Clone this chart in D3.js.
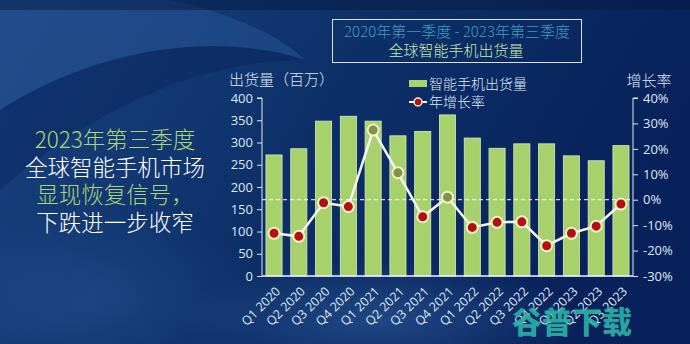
<!DOCTYPE html>
<html><head><meta charset="utf-8">
<script src="https://cdn.jsdelivr.net/npm/d3@7"></script>
<style>html,body{margin:0;padding:0;background:#0b2a5e;overflow:hidden}
text{font-family:"Noto Sans CJK SC","Noto Sans",sans-serif}</style>
</head><body><svg id="c" width="690" height="344"></svg>
<script>
const categories = ["Q1 2020","Q2 2020","Q3 2020","Q4 2020","Q1 2021","Q2 2021","Q3 2021","Q4 2021","Q1 2022","Q2 2022","Q3 2022","Q4 2022","Q1 2023","Q2 2023","Q3 2023"];
const shipments = [272,286,348,359,348,315,325,362,310,287,297,297,270,259,293];
const growth = [-13.2,-14.4,-1.2,-2.7,27.4,10.6,-6.7,1.0,-10.9,-8.9,-8.7,-18.1,-13.2,-10.4,-1.7];
const leftTicks = [0,50,100,150,200,250,300,350,400];
const rightTicks = [-30,-20,-10,0,10,20,30,40];
const titleLines = ["2020年第一季度 - 2023年第三季度","全球智能手机出货量"];
const sideLines = [["2023年第三季度","#a9d67a"],["全球智能手机市场","#ffffff"],["显现恢复信号，","#a9d67a"],["下跌进一步收窄","#ffffff"]];
const legendLabels = ["智能手机出货量","年增长率"];

const svg = d3.select("#c");
const defs = svg.append("defs");
const bg = defs.append("linearGradient").attr("id","bg").attr("x1","0").attr("y1","0").attr("x2","1").attr("y2","0.3");
bg.append("stop").attr("offset","0").attr("stop-color","#1a4380");
bg.append("stop").attr("offset","0.5").attr("stop-color","#0d3069");
bg.append("stop").attr("offset","1").attr("stop-color","#08215a");
svg.append("rect").attr("width",690).attr("height",344).attr("fill","url(#bg)");
const rg = defs.append("radialGradient").attr("id","glow").attr("cx","0.5").attr("cy","0.5").attr("r","0.5");
rg.append("stop").attr("offset","0").attr("stop-color","#3a6fb0").attr("stop-opacity",0.45);
rg.append("stop").attr("offset","1").attr("stop-color","#3a6fb0").attr("stop-opacity",0);
// swooshes
svg.append("path").attr("d","M0,0 L170,0 C240,15 285,40 305,60 C230,35 110,40 0,110 Z").attr("fill","#2d5c9c").attr("opacity",0.45);
svg.append("path").attr("d","M0,110 C110,40 230,35 305,60 C200,60 90,110 0,190 Z").attr("fill","#08245a").attr("opacity",0.45);
svg.append("ellipse").attr("cx",380).attr("cy",320).attr("rx",200).attr("ry",60).attr("fill","url(#glow)");
svg.append("ellipse").attr("cx",90).attr("cy",300).attr("rx",180).attr("ry",90).attr("fill","url(#glow)").attr("opacity",0.6);
svg.append("rect").attr("width",690).attr("height",10).attr("fill","#061a40").attr("opacity",0.5);

const x = d3.scaleBand().domain(categories).range([262,633]).paddingInner(0.35).paddingOuter(0.16);
const yL = d3.scaleLinear().domain([0,400]).range([276,98]);
const yR = d3.scaleLinear().domain([-30,40]).range([276,98]);

const txt = "#dfe8f3";
const gL = svg.append("g").attr("transform","translate(262,0)").call(d3.axisLeft(yL).tickValues(leftTicks).tickSize(5).tickPadding(4));
const gR = svg.append("g").attr("transform","translate(633,0)").call(d3.axisRight(yR).tickValues(rightTicks).tickSize(5).tickPadding(5).tickFormat(d=>d+"%"));
[gL,gR].forEach(g=>{
  g.selectAll("path,line").attr("stroke",txt).attr("stroke-width",1);
  g.selectAll("text").attr("fill",txt).style("font-size","13px").style("font-family","'Open Sans','Noto Sans',sans-serif");
});
gL.select(".domain").attr("d","M-5,98H0V276");
gR.select(".domain").attr("d","M5,98H0V276");

// bars
svg.append("g").selectAll("rect").data(shipments).join("rect")
  .attr("x",(d,i)=>x(categories[i])).attr("width",x.bandwidth())
  .attr("y",d=>yL(d)).attr("height",d=>276-yL(d))
  .attr("fill","#a6d16b").attr("stroke","#d9ecc2").attr("stroke-width",0.8);

// x axis
const gX = svg.append("g").attr("transform","translate(0,276)").call(d3.axisBottom(x).tickSize(0));
gX.select(".domain").attr("stroke","#eef3f8").attr("stroke-width",1.5).attr("d","M262,0H633");
gX.selectAll("text").attr("fill",txt).style("font-size","12.5px").style("font-family","'Open Sans','Noto Sans',sans-serif")
  .attr("text-anchor","end").attr("x",0).attr("y",0).attr("dy","0.35em").attr("transform","translate(4,13) rotate(-45)");

// zero line
svg.append("line").attr("x1",262).attr("x2",633).attr("y1",yR(0)).attr("y2",yR(0))
  .attr("stroke","#ffffff").attr("stroke-width",1).attr("stroke-dasharray","4,3");

// growth line
const line = d3.line().x((d,i)=>x(categories[i])+x.bandwidth()/2).y(d=>yR(d));
svg.append("path").datum(growth).attr("d",line).attr("fill","none").attr("stroke","#f4f6f0").attr("stroke-width",2.5);
svg.append("g").selectAll("circle").data(growth).join("circle")
  .attr("cx",(d,i)=>x(categories[i])+x.bandwidth()/2).attr("cy",d=>yR(d)).attr("r",5.5)
  .attr("fill",d=>d>0?"#7f9448":"#b3100f").attr("stroke","#f6efcf").attr("stroke-width",2);

// axis titles
svg.append("text").attr("x",229).attr("y",85).attr("fill",txt).style("font-size","15px").style("font-weight",300).text("出货量（百万）");
svg.append("text").attr("x",649).attr("y",86).attr("text-anchor","middle").attr("fill",txt).style("font-size","15px").style("font-weight",300).text("增长率");

// legend
svg.append("rect").attr("x",409).attr("y",80).attr("width",18).attr("height",7).attr("fill","#a6d16b");
svg.append("text").attr("x",429).attr("y",89).attr("fill",txt).style("font-size","14px").style("font-weight",300).text(legendLabels[0]);
svg.append("line").attr("x1",409).attr("x2",427).attr("y1",102).attr("y2",102).attr("stroke","#f4f6f0").attr("stroke-width",2);
svg.append("circle").attr("cx",418).attr("cy",102).attr("r",4).attr("fill","#b3100f").attr("stroke","#f6efcf").attr("stroke-width",1.5);
svg.append("text").attr("x",429).attr("y",107).attr("fill",txt).style("font-size","14px").style("font-weight",300).text(legendLabels[1]);

// title box
svg.append("rect").attr("x",332.5).attr("y",19.5).attr("width",249).attr("height",43).attr("fill","none").attr("stroke","#d6e2ee").attr("stroke-width",1);
svg.append("text").attr("x",457).attr("y",37).attr("text-anchor","middle").attr("fill","#3d9dc0").style("font-size","15px").style("font-weight",300).text(titleLines[0]);
svg.append("text").attr("x",456).attr("y",55.5).attr("text-anchor","middle").attr("fill","#c8ecb0").style("font-size","15px").style("font-weight",300).text(titleLines[1]);

// side text
sideLines.forEach((l,i)=>{
  svg.append("text").attr("x",115).attr("y",148+i*27.7).attr("text-anchor","middle").attr("fill",l[1])
    .style("font-size","22.5px").style("font-weight",300).text(l[0]);
});

// watermark
svg.append("text").attr("x",572).attr("y",333).attr("text-anchor","middle").attr("fill","#2bb3a8").attr("opacity",0.9)
  .style("font-size","30px").style("font-weight",900).text("谷普下载");
</script></body></html>
